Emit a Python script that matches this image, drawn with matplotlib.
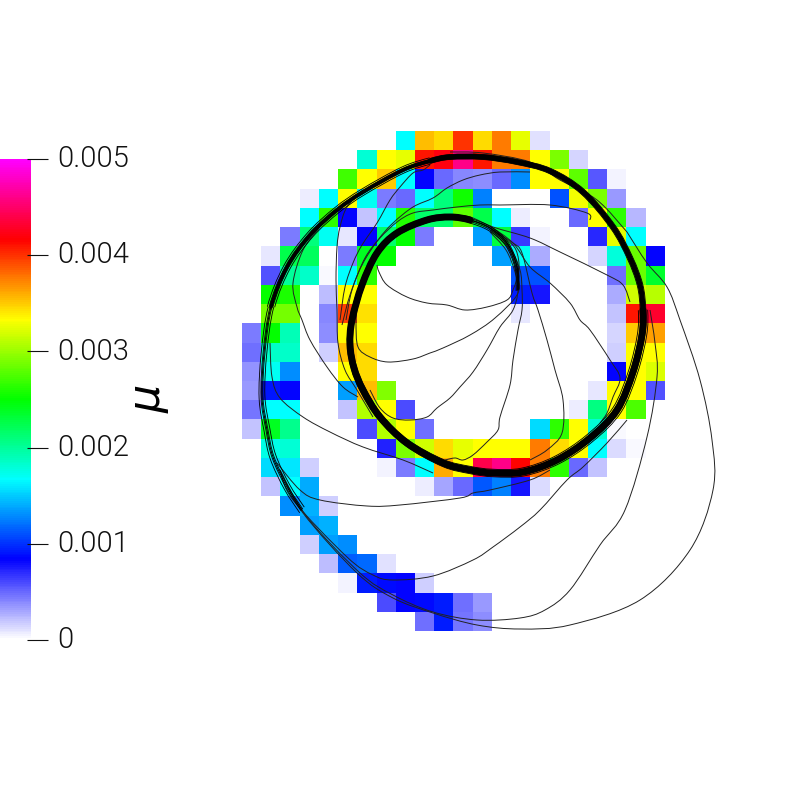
import numpy as np
import matplotlib
matplotlib.use("Agg")
import matplotlib.pyplot as plt
from matplotlib.colors import LinearSegmentedColormap
from matplotlib.patches import PathPatch
from matplotlib.path import Path
from matplotlib.transforms import ScaledTranslation

# histogram of mu, in units of 1e-5
mu_grid = [
    [0,0,0,0,0,0,0,0,167,355,345,400,345,375,325,10,0,0,0,0,0,0],
    [0,0,0,0,0,0,180,333,325,410,420,460,410,375,375,333,290,15,0,0,0,0],
    [0,0,0,0,0,270,333,350,167,83,50,40,38,50,130,333,333,280,55,5,0,0],
    [0,0,0,6,167,333,170,43,50,167,210,255,125,0,0,0,110,330,290,35,1,0],
    [0,0,0,167,265,83,20,167,260,215,215,280,225,167,6,0,0,50,333,265,25,0],
    [0,0,43,210,170,9,83,215,250,43,0,0,135,230,65,4,0,0,72,325,167,0],
    [0,8,225,220,0,43,240,250,0,0,0,0,0,135,170,28,0,0,14,178,285,83],
    [0,57,200,185,3,167,265,0,0,0,0,0,0,0,110,110,0,0,0,48,285,235],
    [0,250,258,0,22,333,333,0,0,0,0,0,0,0,92,78,0,0,0,28,318,310],
    [0,288,288,0,40,395,342,0,0,0,0,0,0,0,8,0,0,0,0,20,410,430],
    [43,250,190,0,38,335,333,0,0,0,0,0,0,0,1,0,0,0,0,14,350,365],
    [48,185,185,0,16,355,345,0,0,0,0,0,0,0,0,0,0,1,0,16,333,333],
    [36,170,130,0,0,333,345,0,0,0,0,0,0,0,0,0,0,0,0,83,333,322],
    [34,90,83,0,0,135,355,292,0,0,0,0,0,0,0,0,0,0,9,333,333,58],
    [46,167,167,0,0,20,308,333,60,0,0,0,0,0,0,0,0,6,208,333,275,0],
    [20,240,205,0,0,0,60,308,333,48,0,0,0,0,0,155,265,333,180,3,0,0],
    [0,175,180,0,0,0,0,73,290,318,345,325,333,333,333,375,345,333,167,12,2,0],
    [0,155,160,16,0,0,0,4,43,167,360,333,440,460,415,375,265,50,20,0,0,0],
    [0,20,167,140,0,0,0,0,0,6,30,50,112,125,78,12,0,0,0,0,0,0],
    [0,0,130,142,16,0,0,0,0,0,0,0,0,0,0,0,0,0,0,0,0,0],
    [0,0,0,135,142,0,0,0,0,0,0,0,0,0,0,0,0,0,0,0,0,0],
    [0,0,0,16,135,130,0,0,0,0,0,0,0,0,0,0,0,0,0,0,0,0],
    [0,0,0,0,22,115,118,11,0,0,0,0,0,0,0,0,0,0,0,0,0,0],
    [0,0,0,0,0,4,92,87,83,16,0,0,0,0,0,0,0,0,0,0,0,0],
    [0,0,0,0,0,0,0,60,83,86,92,48,34,0,0,0,0,0,0,0,0,0],
    [0,0,0,0,0,0,0,0,0,47,92,45,38,0,0,0,0,0,0,0,0,0],
]

tick_values = [0, 0.001, 0.002, 0.003, 0.004, 0.005]
tick_labels = ["0", "0.001", "0.002", "0.003", "0.004", "0.005"]

# attractor, one path from the hub outwards
ring_x = [518,517,507,490,470,450,427,397,377,362,352,350,354,363,380,407,443,470,493,523,557,590,617,633,642,643,640,630,613,583,550,517,483,450,430,403,363,337,310,287,271,264,262,267,273,287,302]
ring_y = [290,267,243,228,220,217,220,233,253,285,320,345,368,390,417,443,463,470,473,472,460,438,410,372,335,310,285,258,227,192,171,162,157,157,161,170,192,210,235,267,307,353,397,430,457,487,510]

# thin trajectories
trajectories = [
    ([377,379,387,407,427,447,465,487,507,513,519,516,505,490],[265,272,285,297,303,305,310,307,300,290,270,250,238,226]),
    ([490,508,516,518,495,470,443,430,413,388,370,358,356,357],[230,248,270,293,318,335,348,353,359,362,357,347,323,310]),
    ([490,506,515,518,513,500,487,473,460,450,437,427,410,393,380,370],[232,250,272,290,310,327,350,372,387,398,408,417,420,418,408,390]),
    ([490,510,520,522,522,518,513,510,500,498,487,473,463,455,445],[228,248,270,290,310,330,360,385,417,430,442,455,460,458,460]),
    ([495,513,522,532,538,547,555,563,562,547,530],[232,243,253,293,310,340,370,400,433,450,460]),
    ([490,513,530,550,570,580,590,610,620,613,607,600],[226,243,267,283,303,320,330,360,378,397,413,423]),
    ([590,587,550,500,480,457,433,413,397,380,365,352,346],[220,213,205,205,205,207,210,213,222,238,258,290,320]),
    ([530,500,480,463,447,433,413,393,378,362,350,342],[172,172,175,180,188,198,207,223,240,265,295,325]),
    ([430,423,413,400,390,377,362,353,345,340],[165,170,173,187,200,223,245,263,287,320]),
    ([363,347,340,337,336,337,338,345,357,373],[190,207,227,247,280,310,343,370,390,417]),
    ([320,303,293,297,302,310,327,343,358],[227,250,283,307,320,340,367,387,397]),
    ([270,272,280,303,330,363,403,433],[343,377,398,417,432,447,460,473]),
    ([277,300,320,367,400,460,473,490,530,550],[463,490,500,506,505,498,493,490,480,470]),
    ([627,607,583,567,540,520,493,473,433,393,373,347,293,280],[420,443,467,480,510,527,547,560,576,580,575,557,500,470]),
    ([280,307,360,393,433,477,520,545,570,600,625,647,657,655,650],[470,517,573,595,612,620,618,610,590,545,510,437,377,343,310]),
    ([280,303,357,393,433,477,520,570,640,690,713,712,700,680,667,647,627],[470,513,573,598,613,625,629,625,600,550,490,440,380,320,287,263,232]),
    ([450,483,530,560,597,627],[152,153,162,180,200,232]),
    ([450,470,493,530,560,607,623,630],[215,217,227,238,252,275,285,302]),
]

plt.rcParams["font.family"] = ["Roboto", "DejaVu Sans"]

colors = ["#ffffff", "#0000ff", "#00ffff", "#00ff00", "#ffff00", "#ff0000", "#ff00ff"]
cmap = LinearSegmentedColormap.from_list("mu", colors)


def smooth_line(xs, ys, start=0, stop=None, **kwargs):
    # bezier through the read points, so the curve has no corners
    p = np.column_stack([xs, ys]).astype(float)
    ext = np.vstack([p[0], p, p[-1]])
    stop = len(p) - 1 if stop is None else stop
    verts = [p[start]]
    codes = [Path.MOVETO]
    for i in range(start + 1, stop + 1):
        verts += [ext[i] + (ext[i + 1] - ext[i - 1]) / 6,
                  ext[i + 1] - (ext[i + 2] - ext[i]) / 6,
                  ext[i + 1]]
        codes += [Path.CURVE4] * 3
    ax.add_patch(PathPatch(Path(verts, codes), fill=False, **kwargs))


fig = plt.figure(figsize=(8, 8), dpi=100)
ax = fig.add_axes([0, 0, 1, 1])
ax.set_xlim(0, 800)
ax.set_ylim(800, 0)
ax.axis("off")

# grid of cells
values = np.array(mu_grid) * 1e-5
x_edges = 242 + 19.22 * np.arange(values.shape[1] + 1)
y_edges = 131 + 19.23 * np.arange(values.shape[0] + 1)
mesh = ax.pcolormesh(x_edges, y_edges, values, cmap=cmap, vmin=0, vmax=0.005)

# trajectories
for xs, ys in trajectories:
    smooth_line(xs, ys, edgecolor="#222222", lw=0.7, zorder=3)

# bundles of the attractor, the width falls along the path
center = np.array([455, 320])
for start, stop, lw, spread in [
    (0, 4, 1.0, [0.97, 0.985, 1.0, 1.015]),
    (4, 25, 5.0, [0.975, 0.985, 1.015, 1.025]),
    (25, 34, 3.8, [0.985, 0.993, 1.007, 1.015]),
    (34, 40, 2.6, [0.98, 0.99, 1.01, 1.02]),
    (40, 46, 0.7, [0.985, 0.995, 1.005, 1.015]),
]:
    smooth_line(ring_x, ring_y, start, stop, edgecolor="black", lw=lw, zorder=4, capstyle="round")
    for s in spread:
        px = center[0] + (np.array(ring_x) - center[0]) * s
        py = center[1] + (np.array(ring_y) - center[1]) * s
        smooth_line(px, py, start, stop, edgecolor="black", lw=0.6, zorder=4)

# colorbar
cax = fig.add_axes([0, 1 - 640 / 800, 31 / 800, 481 / 800])
cbar = fig.colorbar(mesh, cax=cax)
cbar.outline.set_visible(False)
cbar.set_ticks(tick_values)
cbar.set_ticklabels(tick_labels)
cax.spines["right"].set_position(("outward", -3))
cax.tick_params(length=15, width=0.8, pad=7, labelsize=21, colors="#111111")
for label in cax.get_yticklabels():
    label.set_fontweight(300)
    label.set_transform(label.get_transform() + ScaledTranslation(0, 2 / 72, fig.dpi_scale_trans))

fig.text(150 / 800, 1 - 399 / 800, r"$\mu$", rotation=90, fontsize=32, ha="center", va="center", color="black")

fig.savefig("out.png", dpi=100)
